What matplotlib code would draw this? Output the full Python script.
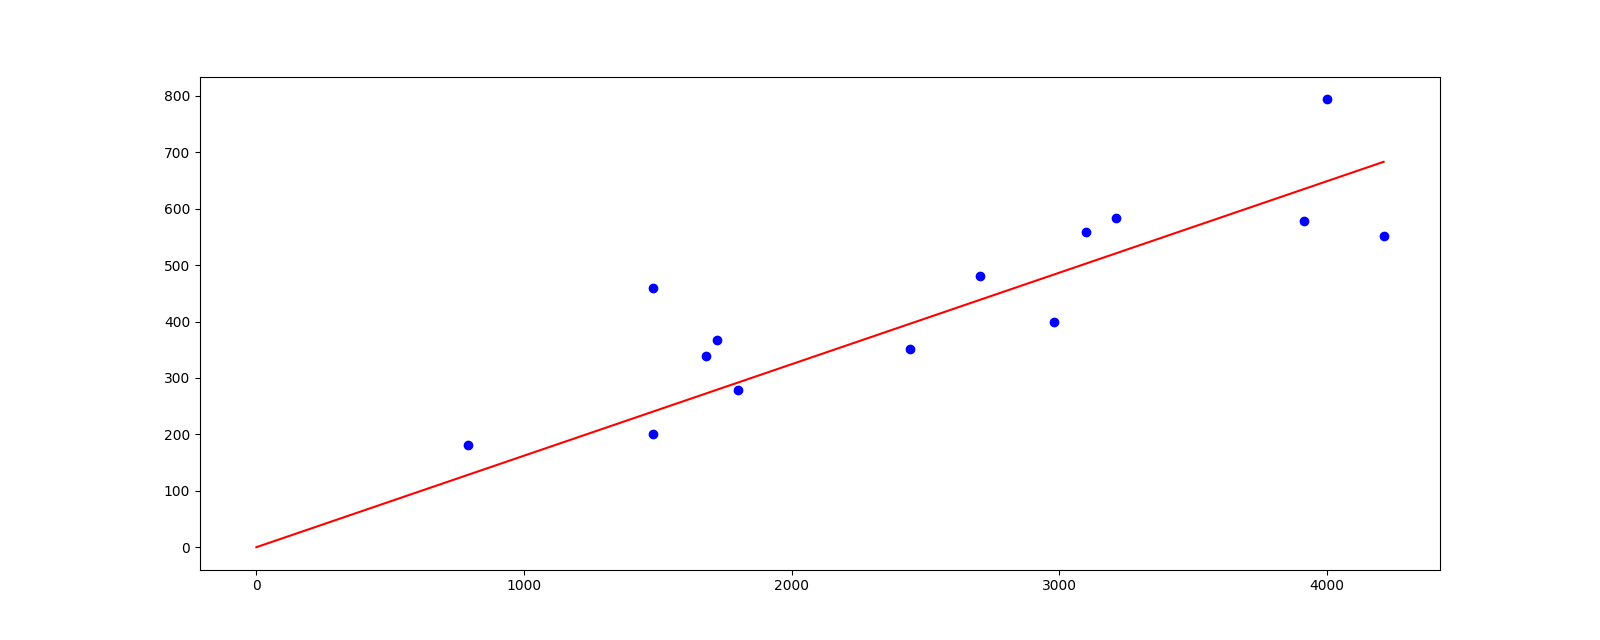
import matplotlib
matplotlib.use("Agg")
import matplotlib.pyplot as plt

x_vals = [790, 1482, 1482, 1680, 1721, 1799, 2442, 2704, 2980, 3100, 3211, 3917, 4000, 4213]
y_vals = [182, 459, 200, 338, 367, 278, 351, 480, 400, 558, 583, 578, 794, 551]

line_x = [0, 4213]
line_y = [0, 683]

fig = plt.figure(figsize=(16, 6.4), dpi=100)
ax = fig.add_subplot(111)
ax.scatter(x_vals, y_vals, color="blue")
ax.plot(line_x, line_y, color="red")
fig.savefig("out.png", dpi=100)
